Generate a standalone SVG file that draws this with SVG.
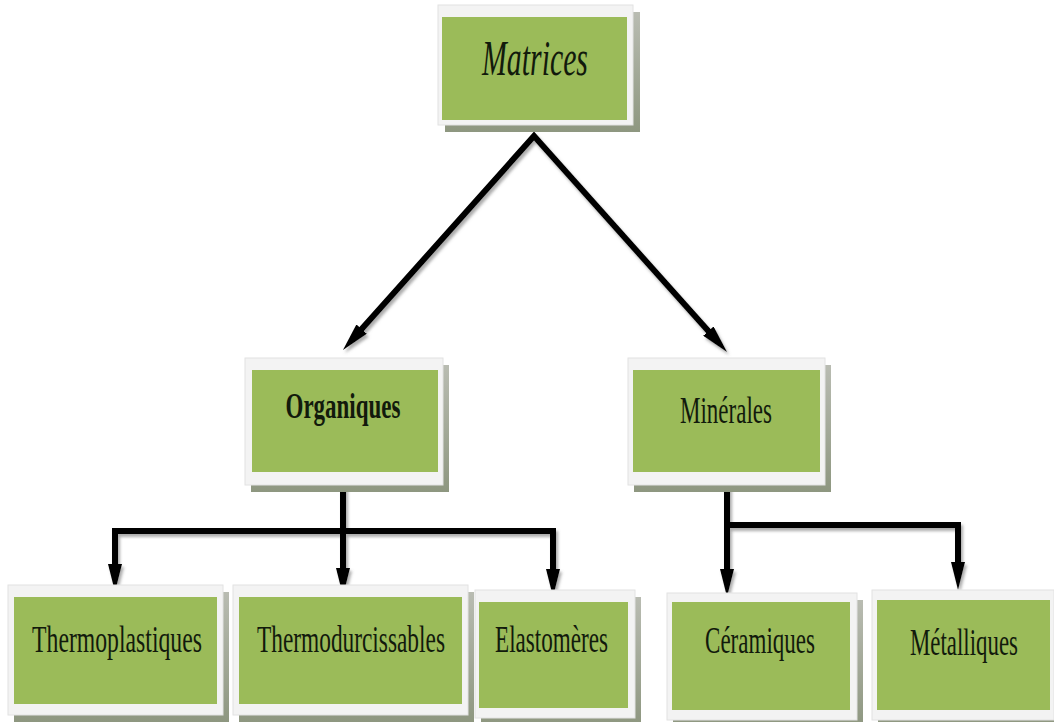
<svg xmlns="http://www.w3.org/2000/svg" width="1054" height="722" viewBox="0 0 1054 722">
  <style>
    .frame { fill: #f3f3f3; stroke: #e2e2e2; stroke-width: 1; }
    .shadow { fill: url(#shadowGrad); }
    .green { fill: #9bbb59; }
    .lbl { font-family: "Liberation Serif", "Times New Roman", serif; fill: #121a0c; text-anchor: middle; }
    .conn { fill: none; stroke: #000; stroke-width: 6; stroke-linejoin: miter; }
  </style>
  <defs>
    <linearGradient id="shadowGrad" x1="0" y1="0" x2="0" y2="1">
      <stop offset="0" stop-color="#b9bcb2"/>
      <stop offset="1" stop-color="#8e9780"/>
    </linearGradient>
    <filter id="lineShadow" x="-10%" y="-10%" width="130%" height="130%">
      <feDropShadow dx="2" dy="3" stdDeviation="1.5" flood-color="#666" flood-opacity="0.55"/>
    </filter>
    <marker id="arrow" viewBox="0 0 28 14" markerUnits="userSpaceOnUse" markerWidth="28" markerHeight="14" refX="8" refY="7" orient="auto-start-reverse">
      <path d="M0,0 L28,7 L0,14 z" fill="#000"/>
    </marker>
  </defs>

  <g id="connectors" filter="url(#lineShadow)">
    <path class="conn" d="M356.3,335.1 L534,136 L713.7,337.1" marker-start="url(#arrow)" marker-end="url(#arrow)"/>
    <path class="conn" d="M343,485 L343,576" marker-end="url(#arrow)"/>
    <path class="conn" d="M115,572 L115,531 L553,531 L553,577" marker-start="url(#arrow)" marker-end="url(#arrow)"/>
    <path class="conn" d="M727,485 L727,577" marker-end="url(#arrow)"/>
    <path class="conn" d="M727,525 L958,525 L958,570" marker-end="url(#arrow)"/>
  </g>

  <g id="node-matrices">
    <rect class="shadow" x="445" y="12" width="195" height="120"/>
    <rect class="frame" x="438" y="5" width="195" height="120"/>
    <rect class="green" x="442" y="17" width="185" height="103"/>
    <text class="lbl" transform="translate(535,75) scale(0.596,1)" font-size="50" font-style="italic">Matrices</text>
  </g>

  <g id="node-organiques">
    <rect class="shadow" x="251" y="365" width="198" height="127"/>
    <rect class="frame" x="245" y="358" width="198" height="127"/>
    <rect class="green" x="252" y="370" width="186" height="102"/>
    <text class="lbl" transform="translate(343,418) scale(0.639,1)" font-size="36" font-weight="bold">Organiques</text>
  </g>

  <g id="node-minerales">
    <rect class="shadow" x="634" y="365" width="197" height="127"/>
    <rect class="frame" x="628" y="358" width="197" height="127"/>
    <rect class="green" x="633" y="370" width="187" height="102"/>
    <text class="lbl" transform="translate(726,423) scale(0.605,1)" font-size="38">Minérales</text>
  </g>

  <g id="node-thermoplastiques">
    <rect class="shadow" x="14" y="592" width="215" height="130"/>
    <rect class="frame" x="8" y="585" width="215" height="130"/>
    <rect class="green" x="14" y="597" width="203" height="107"/>
    <text class="lbl" transform="translate(117,652) scale(0.641,1)" font-size="37">Thermoplastiques</text>
  </g>

  <g id="node-thermodurcissables">
    <rect class="shadow" x="239" y="592" width="235" height="130"/>
    <rect class="frame" x="233" y="585" width="235" height="130"/>
    <rect class="green" x="239" y="597" width="223" height="107"/>
    <text class="lbl" transform="translate(351,652) scale(0.631,1)" font-size="37">Thermodurcissables</text>
  </g>

  <g id="node-elastomeres">
    <rect class="shadow" x="481" y="597" width="160" height="128"/>
    <rect class="frame" x="475" y="590" width="160" height="128"/>
    <rect class="green" x="479" y="602" width="149" height="106"/>
    <text class="lbl" transform="translate(551.5,652) scale(0.625,1)" font-size="37">Elastomères</text>
  </g>

  <g id="node-ceramiques">
    <rect class="shadow" x="673" y="600" width="190" height="127"/>
    <rect class="frame" x="667" y="593" width="190" height="127"/>
    <rect class="green" x="672" y="602" width="178" height="108"/>
    <text class="lbl" transform="translate(760,653) scale(0.622,1)" font-size="37">Céramiques</text>
  </g>

  <g id="node-metalliques">
    <rect class="shadow" x="878" y="597" width="182" height="130"/>
    <rect class="frame" x="872" y="590" width="182" height="130"/>
    <rect class="green" x="877" y="600" width="173" height="110"/>
    <text class="lbl" transform="translate(964,655) scale(0.618,1)" font-size="37">Métalliques</text>
  </g>
</svg>
